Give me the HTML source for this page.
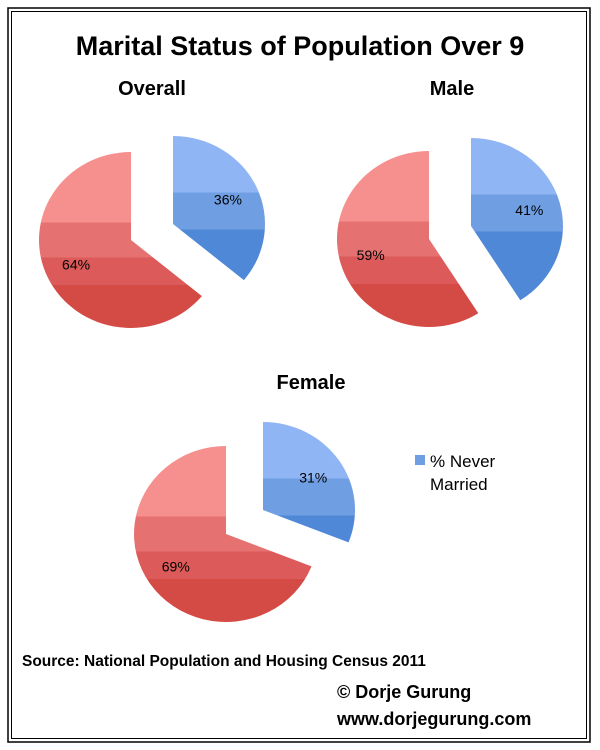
<!DOCTYPE html>
<html><head><meta charset="utf-8"><style>
html,body{margin:0;padding:0;background:#fff;}
svg{display:block;font-family:"Liberation Sans",Arial,sans-serif;}
</style></head><body>
<svg id="chart" width="600" height="750" viewBox="0 0 600 750">
<rect x="8" y="8" width="582" height="734" fill="none" stroke="#000" stroke-width="1.5"/>
<rect x="11.5" y="11.5" width="575" height="727" fill="none" stroke="#000" stroke-width="1"/>
<text x="300" y="55" text-anchor="middle" font-size="27" font-weight="bold">Marital Status of Population Over 9</text>
<g id="pies"></g>
<rect x="415" y="455" width="10" height="10" fill="#6F9FE2"/>
<text x="430" y="467" font-size="17"><tspan x="430">% Never</tspan><tspan x="430" dy="23">Married</tspan></text>
<text x="22" y="666" font-size="15.5" font-weight="bold">Source: National Population and Housing Census 2011</text>
<text x="337" y="698" font-size="18" font-weight="bold">© Dorje Gurung</text>
<text x="337" y="725" font-size="18" font-weight="bold">www.dorjegurung.com</text>
</svg>
<script>
const groups = ["Overall", "Male", "Female"];
const neverMarried = [36, 41, 31];
const married = [64, 59, 69];

const layout = [
  {cx:131, cy:240, bx:173, by:224, tx:152, ty:95},
  {cx:429, cy:239, bx:471, by:226, tx:452, ty:95},
  {cx:226, cy:534, bx:263, by:510, tx:311, ty:389}
];
const RX = 92, RY = 88;
const NS = "http://www.w3.org/2000/svg";
const g = document.getElementById('pies');
const svg = document.getElementById('chart');
const defs = document.createElementNS(NS,'defs');
svg.insertBefore(defs, svg.firstChild);

function pt(cx,cy,a){return [cx+RX*Math.sin(a), cy-RY*Math.cos(a)];}
function slicePath(cx,cy,a0,a1){
  const p0=pt(cx,cy,a0), p1=pt(cx,cy,a1);
  const large=(a1-a0)>Math.PI?1:0;
  return `M${cx},${cy} L${p0[0]},${p0[1]} A${RX},${RY} 0 ${large} 1 ${p1[0]},${p1[1]} Z`;
}
function bandGrad(id, y0, y1, colors, stops){
  const lg=document.createElementNS(NS,'linearGradient');
  lg.setAttribute('id',id);
  lg.setAttribute('gradientUnits','userSpaceOnUse');
  lg.setAttribute('x1',0);lg.setAttribute('x2',0);
  lg.setAttribute('y1',y0);lg.setAttribute('y2',y1);
  let prev=0;
  colors.forEach((c,i)=>{
    const end = i<stops.length?stops[i]:1;
    [prev,end].forEach(o=>{const s=document.createElementNS(NS,'stop');s.setAttribute('offset',o);s.setAttribute('stop-color',c);lg.appendChild(s);});
    prev=end;
  });
  defs.appendChild(lg);
}
const redCols=['#F6908E','#E57270','#DC5B5A','#D44A44'];
const blueCols=['#8FB5F5','#6F9FE2','#4F88D6'];

groups.forEach((name,i)=>{
  const L=layout[i];
  const pBlue = neverMarried[i]/(neverMarried[i]+married[i]);
  const aSplit = pBlue*2*Math.PI;
  bandGrad('rg'+i, L.cy-RY, L.cy+RY, redCols, [0.40,0.60,0.755]);
  bandGrad('bg'+i, L.by-RY, L.by+RY, blueCols, [0.32,0.53]);

  const red=document.createElementNS(NS,'path');
  red.setAttribute('d', slicePath(L.cx,L.cy,aSplit,2*Math.PI));
  red.setAttribute('fill','url(#rg'+i+')');
  
  
  g.appendChild(red);

  const blue=document.createElementNS(NS,'path');
  blue.setAttribute('d', slicePath(L.bx,L.by,0,aSplit));
  blue.setAttribute('fill','url(#bg'+i+')');
  
  
  g.appendChild(blue);

  const t=document.createElementNS(NS,'text');
  t.setAttribute('x',L.tx);t.setAttribute('y',L.ty);
  t.setAttribute('text-anchor','middle');t.setAttribute('font-size','20');t.setAttribute('font-weight','bold');
  t.textContent=name;
  
  
  g.appendChild(t);

  // labels
  const bm=aSplit/2, bp=pt(L.bx,L.by,bm);
  const bl=document.createElementNS(NS,'text');
  bl.setAttribute('x', L.bx+(bp[0]-L.bx)*0.66);
  bl.setAttribute('y', L.by+(bp[1]-L.by)*0.66+5);
  bl.setAttribute('text-anchor','middle');bl.setAttribute('font-size','14');
  bl.textContent=neverMarried[i]+'%';
  
  
  g.appendChild(bl);

  const rm=(aSplit+2*Math.PI)/2, rp=pt(L.cx,L.cy,rm);
  const rl=document.createElementNS(NS,'text');
  rl.setAttribute('x', L.cx+(rp[0]-L.cx)*0.66);
  rl.setAttribute('y', L.cy+(rp[1]-L.cy)*0.66+5);
  rl.setAttribute('text-anchor','middle');rl.setAttribute('font-size','14');
  rl.textContent=married[i]+'%';
  
  
  g.appendChild(rl);
});
</script>
</body></html>
